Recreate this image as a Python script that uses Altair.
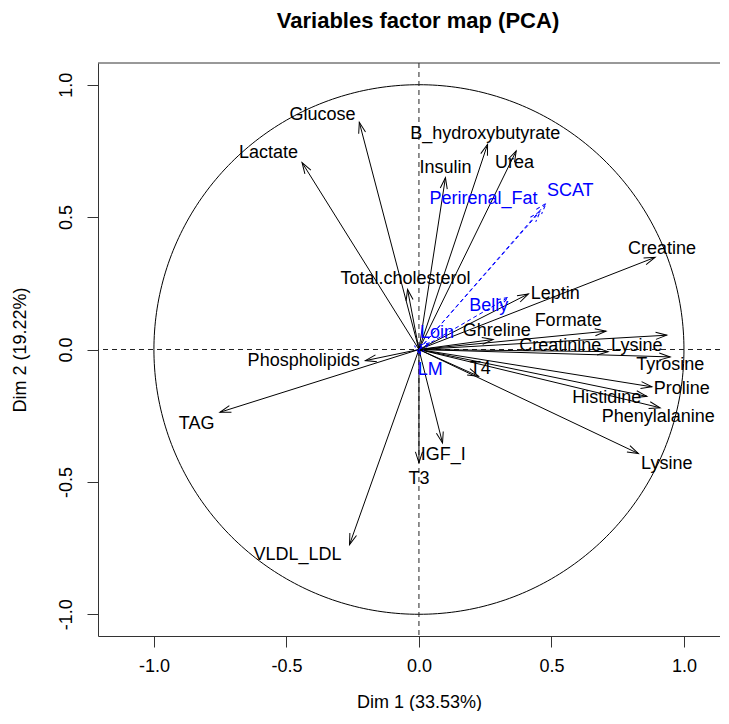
import altair as alt
import pandas as pd
import numpy as np

# ---- active variables (coordinates on Dim 1 / Dim 2) ----
names = ["Glucose", "Lactate", "Total.cholesterol", "Phospholipids", "TAG",
         "VLDL_LDL", "T3", "IGF_I", "Insulin", "B_hydroxybutyrate", "Urea",
         "Creatine", "Leptin", "Ghreline", "Formate", "Creatinine", "Lysine",
         "Tyrosine", "T4", "Proline", "Histidine", "Phenylalanine", "Lysine"]
dim1 = [-0.225, -0.441, -0.043, -0.202, -0.751, -0.262, 0.000, 0.089, 0.100,
        0.259, 0.367, 0.891, 0.413, 0.280, 0.706, 0.714, 0.935, 0.948, 0.225,
        0.879, 0.860, 0.910, 0.828]
dim2 = [0.858, 0.706, 0.227, -0.042, -0.237, -0.737, -0.428, -0.353, 0.649,
        0.775, 0.750, 0.348, 0.210, 0.038, 0.069, -0.008, 0.054, -0.028,
        -0.101, -0.141, -0.177, -0.220, -0.393]
label_x = [-0.364, -0.568, -0.051, -0.435, -0.839, -0.458, 0.000, 0.092, 0.100,
           0.250, 0.361, 0.917, 0.514, 0.294, 0.563, 0.533, 0.822, 0.948, 0.231,
           0.992, 0.709, 0.903, 0.935]
label_y = [0.885, 0.741, 0.265, -0.044, -0.280, -0.775, -0.489, -0.397, 0.687,
           0.813, 0.706, 0.378, 0.208, 0.069, 0.107, 0.012, 0.012, -0.059,
           -0.072, -0.151, -0.183, -0.254, -0.431]

# ---- supplementary variables ----
supp_names = ["Perirenal_Fat", "SCAT", "Belly", "Loin", "LM"]
supp_dim1 = [0.458, 0.480, 0.337, 0.043, 0.005]
supp_dim2 = [0.522, 0.552, 0.197, 0.026, -0.023]
supp_label_x = [0.244, 0.571, 0.263, 0.068, 0.043]
supp_label_y = [0.567, 0.598, 0.164, 0.063, -0.076]

axis_ticks = [-1.0, -0.5, 0.0, 0.5, 1.0]

X_MIN, X_MAX = -1.211, 1.136
Y_MIN, Y_MAX = -1.082, 1.082
W, H = 622, 573
FONT = "Liberation Sans"
FS = 18
ARROW = "M -1 -0.32 L 0 0 L -1 0.32"


def frame(n, x, y, lx, ly):
    d = pd.DataFrame({"name": n, "x": x, "y": y, "lx": lx, "ly": ly})
    d["x0"] = 0.0
    d["y0"] = 0.0
    d["angle"] = np.degrees(np.arctan2(-d["y"], d["x"])) % 360
    return d


act = frame(names, dim1, dim2, label_x, label_y)
sup = frame(supp_names, supp_dim1, supp_dim2, supp_label_x, supp_label_y)

ang = np.linspace(0, 2 * np.pi, 361)
circle = pd.DataFrame({"cx": np.cos(ang), "cy": np.sin(ang), "i": np.arange(361)})
one = pd.DataFrame({"v": [0.0]})

xs = alt.Scale(domain=[X_MIN, X_MAX], nice=False, zero=False)
ys = alt.Scale(domain=[Y_MIN, Y_MAX], nice=False, zero=False)
lbl = "datum.value < 0 ? '-' + format(-datum.value, '.1f') : format(datum.value, '.1f')"

xaxis = alt.Axis(values=axis_ticks, labelExpr=lbl, grid=False, domainColor="#333",
                 tickColor="#333", tickSize=11, labelFont=FONT, labelFontSize=FS,
                 labelColor="black", labelPadding=10, labelFlush=False,
                 title="Dim 1 (33.53%)", titleFont=FONT, titleFontSize=FS,
                 titleFontWeight="normal", titleColor="black", titleX=321,
                 titleY=66, titleAlign="center", titleBaseline="middle")
yaxis = alt.Axis(values=axis_ticks, labelExpr=lbl, grid=False, domainColor="#333",
                 tickColor="#333", tickSize=11, labelFont=FONT, labelFontSize=FS,
                 labelColor="black", labelPadding=12, labelAngle=-90,
                 labelAlign="center", labelBaseline="bottom", labelFlush=False,
                 title="Dim 2 (19.22%)", titleFont=FONT, titleFontSize=FS,
                 titleFontWeight="normal", titleColor="black", titleX=-78,
                 titleY=286.5, titleAngle=-90, titleAlign="center",
                 titleBaseline="middle")


def X(f):
    return alt.X(f, type="quantitative", scale=xs, axis=xaxis)


def Y(f):
    return alt.Y(f, type="quantitative", scale=ys, axis=yaxis)


circ = alt.Chart(circle).mark_line(color="black", strokeWidth=1).encode(
    x=X("cx"), y=Y("cy"), order="i:Q")

vline = alt.Chart(one).mark_rule(color="#222", strokeWidth=1, strokeDash=[5, 4]).encode(
    x=alt.datum(0.0))
hline = alt.Chart(one).mark_rule(color="#222", strokeWidth=1, strokeDash=[5, 4]).encode(
    y=alt.datum(0.0))
top = alt.Chart(one).mark_rule(color="#333", strokeWidth=1).encode(
    y=alt.datum(Y_MAX))


def arrows(d, color, dash=None):
    kw = {"color": color, "strokeWidth": 1}
    if dash:
        kw["strokeDash"] = dash
    shafts = alt.Chart(d).mark_rule(**kw).encode(
        x=X("x0"), y=Y("y0"), x2="x:Q", y2="y:Q")
    heads = alt.Chart(d).mark_point(shape=ARROW, size=484, filled=False,
                                    opacity=1, **kw).encode(
        x=X("x"), y=Y("y"), angle=alt.Angle("angle:Q", scale=None))
    texts = alt.Chart(d).mark_text(font=FONT, fontSize=FS, color=color,
                                   align="center", baseline="middle").encode(
        x=X("lx"), y=Y("ly"), text="name:N")
    return [shafts, heads, texts]


layers = [circ, vline, hline, top] + arrows(act, "black") + arrows(sup, "#0000FF", [4, 3])

chart = alt.layer(*layers).properties(
    width=W, height=H,
    autosize=alt.AutoSizeParams(type="none"),
    padding={"left": 90, "top": 55, "right": 0, "bottom": 75},
    title=alt.TitleParams("Variables factor map (PCA)", font=FONT, fontSize=22,
                          fontWeight="bold", color="black", anchor="middle",
                          dx=9, offset=8, baseline="bottom"),
).configure_view(stroke=None)

chart.save("out.html", embed_options={"renderer": "svg", "actions": False})
